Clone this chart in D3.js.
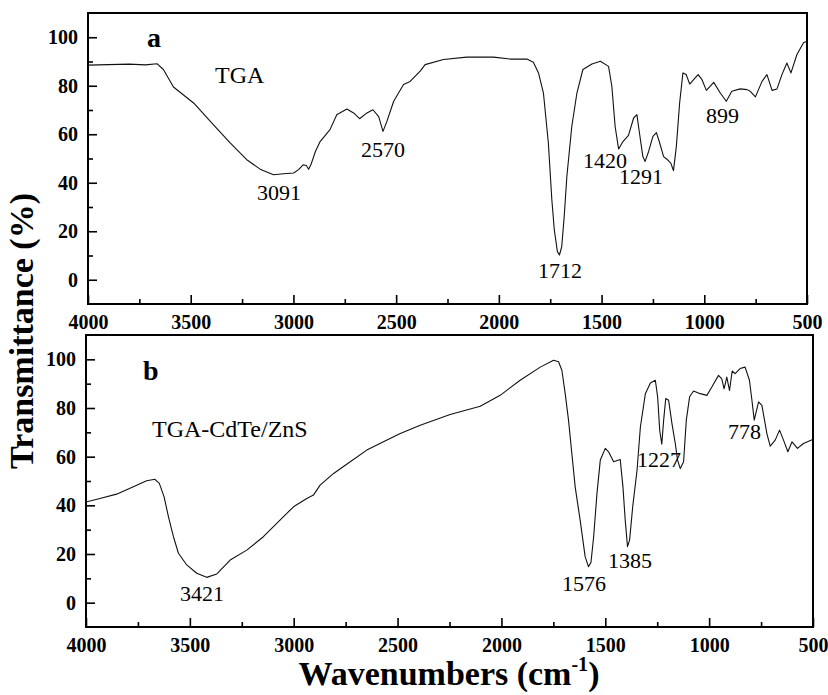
<!DOCTYPE html>
<html>
<head>
<meta charset="utf-8">
<script src="https://cdn.jsdelivr.net/npm/d3@7"></script>
<style>
  body { margin: 0; background: #fff; }
  text { font-family: "Liberation Serif", "Times New Roman", serif; }
</style>
</head>
<body>
<script>
'use strict';

// spectrum a : TGA  [wavenumber, transmittance]
const tgaWave = [4000, 3900, 3800, 3720, 3664, 3633, 3584, 3486, 3389, 3308, 3227, 3162, 3097, 3048, 2999,
  2975, 2953, 2937, 2926, 2915, 2893, 2870, 2822, 2789, 2740, 2707, 2678, 2642, 2613, 2585, 2564, 2545,
  2512, 2464, 2432, 2383, 2359, 2270, 2156, 2026, 1945, 1864, 1832, 1807, 1783, 1759, 1742, 1730, 1715,
  1705, 1694, 1682, 1669, 1645, 1620, 1591, 1547, 1506, 1466, 1450, 1434, 1417, 1396, 1369, 1344, 1328,
  1315, 1299, 1288, 1271, 1250, 1233, 1217, 1198, 1182, 1163, 1150, 1136, 1120, 1104, 1088, 1071, 1052,
  1030, 1011, 990, 954, 922, 893, 866, 825, 792, 776, 751, 719, 695, 670, 646, 622, 598, 578, 549, 517, 500];
const tgaT = [88.5, 88.7, 88.9, 88.6, 89.1, 86.7, 79.5, 72.9, 63.9, 56.4, 49.5, 45.6, 43.3, 43.7, 44.0,
  45.4, 47.4, 47.1, 45.6, 47.4, 52.9, 57.0, 61.9, 68.0, 70.4, 68.8, 66.4, 68.8, 70.1, 67.3, 61.2, 65.3,
  73.6, 80.5, 81.8, 86.0, 88.7, 90.8, 91.8, 91.8, 91.0, 91.0, 89.7, 85.3, 77.0, 56.4, 32.9, 20.5, 11.6,
  10.2, 13.6, 26.0, 42.6, 63.2, 77.0, 86.7, 89.0, 90.1, 88.0, 79.8, 63.2, 53.9, 57.0, 59.5, 66.7, 68.1,
  60.2, 50.8, 48.8, 52.9, 59.1, 60.7, 56.4, 50.8, 49.7, 48.1, 45.0, 55.0, 72.9, 85.3, 84.6, 80.7, 82.5,
  84.6, 82.5, 78.1, 81.4, 77.0, 73.6, 77.7, 78.7, 78.4, 77.7, 75.4, 81.8, 84.6, 78.1, 78.7, 84.6, 89.4,
  85.3, 92.9, 97.7, 98.4];

// spectrum b : TGA-CdTe/ZnS
const qdWave = [4000, 3933, 3853, 3772, 3708, 3668, 3647, 3624, 3603, 3579, 3555, 3515, 3467, 3419, 3370,
  3306, 3226, 3146, 3066, 3001, 2937, 2905, 2873, 2808, 2728, 2648, 2568, 2487, 2391, 2247, 2102, 2006,
  1910, 1813, 1749, 1725, 1709, 1693, 1677, 1661, 1645, 1621, 1597, 1581, 1569, 1556, 1540, 1524, 1500,
  1484, 1460, 1428, 1415, 1404, 1393, 1383, 1368, 1347, 1331, 1307, 1283, 1259, 1248, 1238, 1228, 1219,
  1209, 1195, 1179, 1163, 1152, 1139, 1123, 1110, 1094, 1075, 1043, 1011, 987, 955, 939, 928, 915, 902,
  889, 875, 851, 827, 806, 794, 783, 762, 746, 722, 706, 682, 661, 642, 621, 601, 575, 546, 504];
const qdT = [41.4, 42.8, 44.6, 47.6, 50.1, 50.7, 49.0, 43.5, 35.3, 27.1, 20.3, 15.5, 12.1, 10.4, 11.8,
  17.5, 21.6, 27.1, 33.9, 39.4, 42.8, 44.2, 48.3, 53.1, 57.9, 62.7, 66.1, 69.5, 72.9, 77.3, 80.7, 85.2,
  91.4, 96.8, 99.6, 99.0, 95.5, 85.9, 75.0, 61.3, 47.6, 33.9, 18.9, 14.8, 16.5, 27.1, 44.9, 58.6, 63.4,
  62.0, 57.9, 58.8, 47.6, 33.9, 23.0, 25.7, 39.4, 54.5, 72.2, 85.9, 90.3, 91.4, 84.6, 70.9, 65.1, 75.0,
  83.9, 83.2, 73.6, 65.4, 58.6, 55.1, 57.9, 75.0, 84.6, 87.0, 85.9, 85.2, 88.6, 93.4, 92.0, 87.9, 92.7, 87.2,
  95.2, 94.1, 96.2, 96.8, 91.4, 83.2, 75.0, 82.5, 81.1, 69.5, 64.3, 66.8, 70.9, 66.8, 62.0, 66.1, 63.4,
  65.4, 67.0];

const tgaPeaks = ["3091", "2570", "1712", "1420", "1291", "899"];
const qdPeaks = ["3421", "1576", "1385", "1227", "778"];

const majorX = [4000, 3500, 3000, 2500, 2000, 1500, 1000, 500];
const minorX = [3750, 3250, 2750, 2250, 1750, 1250, 750];
const majorY = [0, 20, 40, 60, 80, 100];
const minorY = [10, 30, 50, 70, 90];

const width = 828, height = 695;

const svg = d3.select("body").append("svg")
    .attr("width", width)
    .attr("height", height);

function drawPanel(box, waves, vals, letter, name, peaks) {
    const x = d3.scaleLinear().domain([4000, 500]).range([box.left, box.right]);
    const y = d3.scaleLinear().domain([-10, 110]).range([box.bottom, box.top]);
    const g = svg.append("g");

    // ticks (inward)
    g.append("g")
        .attr("transform", "translate(0," + box.bottom + ")")
        .call(d3.axisBottom(x).tickValues(majorX).tickSize(-9).tickPadding(11).tickFormat(d3.format("d")))
        .call(a => a.select(".domain").remove());
    g.append("g")
        .attr("transform", "translate(0," + box.bottom + ")")
        .call(d3.axisBottom(x).tickValues(minorX).tickSize(-5).tickFormat(""))
        .call(a => a.select(".domain").remove());
    g.append("g")
        .attr("transform", "translate(" + box.left + ",0)")
        .call(d3.axisLeft(y).tickValues(majorY).tickSize(-9).tickPadding(10).tickFormat(d3.format("d")))
        .call(a => a.select(".domain").remove());
    g.append("g")
        .attr("transform", "translate(" + box.left + ",0)")
        .call(d3.axisLeft(y).tickValues(minorY).tickSize(-5).tickFormat(""))
        .call(a => a.select(".domain").remove());

    g.selectAll(".tick line").attr("stroke", "#000").attr("stroke-width", 1.6);
    g.selectAll(".tick text")
        .attr("fill", "#000")
        .style("font-family", '"Liberation Serif", "Times New Roman", serif')
        .style("font-size", "20px")
        .style("font-weight", "bold");

    // spectrum
    const line = d3.line()
        .x((d, i) => x(waves[i]))
        .y(d => y(d));
    g.append("path")
        .datum(vals)
        .attr("fill", "none")
        .attr("stroke", "#111")
        .attr("stroke-width", 1.1)
        .attr("stroke-linejoin", "round")
        .attr("d", line);

    // frame
    g.append("rect")
        .attr("x", box.left)
        .attr("y", box.top)
        .attr("width", box.right - box.left)
        .attr("height", box.bottom - box.top)
        .attr("fill", "none")
        .attr("stroke", "#000")
        .attr("stroke-width", 2);

    g.append("text")
        .attr("x", letter.x).attr("y", letter.y)
        .style("font-size", "28px").style("font-weight", "bold")
        .text(letter.t);
    g.append("text")
        .attr("x", name.x).attr("y", name.y)
        .style("font-size", "24px")
        .text(name.t);

    g.selectAll(".peak")
        .data(peaks)
        .enter().append("text")
        .attr("class", "peak")
        .attr("x", d => d.x)
        .attr("y", d => d.y)
        .style("font-size", "22px")
        .text(d => d.t);
}

drawPanel({left: 88, top: 13, right: 807, bottom: 304}, tgaWave, tgaT,
    {t: "a", x: 147, y: 47}, {t: "TGA", x: 215, y: 83},
    tgaPeaks.map((t, i) => ({t: t,
        x: [257, 361, 538, 583, 619, 706][i],
        y: [200, 157, 278, 168, 184, 123][i]})));

drawPanel({left: 86, top: 335, right: 813, bottom: 627}, qdWave, qdT,
    {t: "b", x: 143, y: 380}, {t: "TGA-CdTe/ZnS", x: 152, y: 437},
    qdPeaks.map((t, i) => ({t: t,
        x: [180, 562, 608, 637, 728][i],
        y: [601, 591, 568, 467, 439][i]})));

// axis titles
svg.append("text")
    .attr("transform", "translate(33,331) rotate(-90)")
    .attr("text-anchor", "middle")
    .style("font-size", "34px")
    .style("font-weight", "bold")
    .text("Transmittance (%)");

const xt = svg.append("text")
    .attr("x", 449)
    .attr("y", 685)
    .attr("text-anchor", "middle")
    .style("font-size", "34px")
    .style("font-weight", "bold");
xt.append("tspan").text("Wavenumbers (cm");
xt.append("tspan").attr("dy", -14).style("font-size", "20px").text("-1");
xt.append("tspan").attr("dy", 14).text(")");
</script>
</body>
</html>
